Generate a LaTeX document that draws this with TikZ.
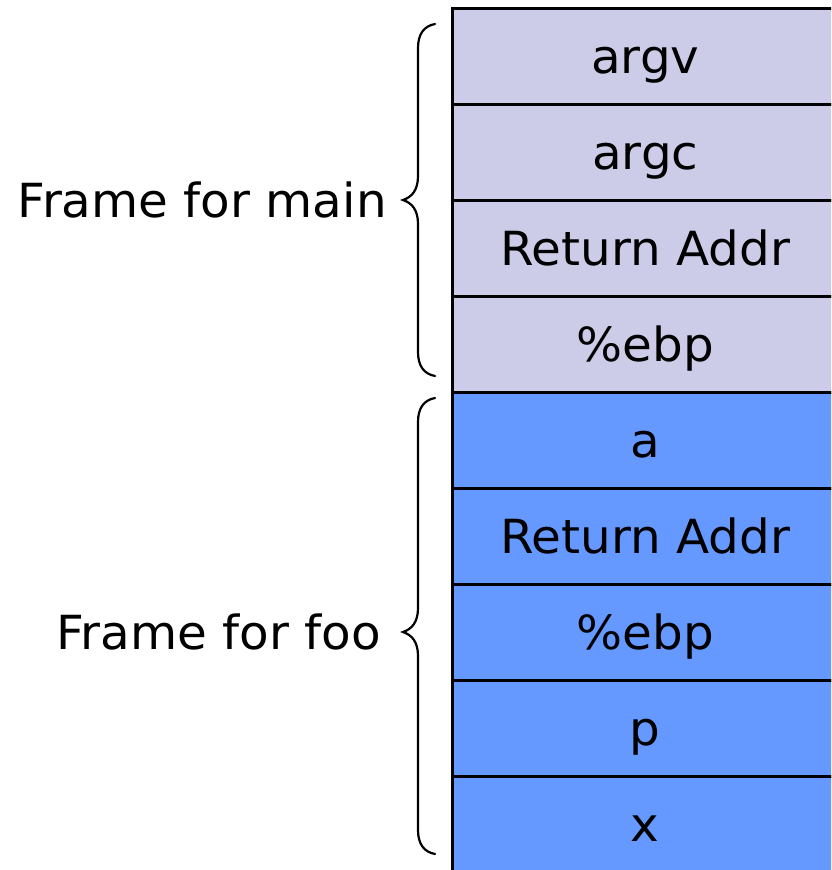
\documentclass[tikz,border=0pt]{standalone}
\usepackage{fontspec}
\setmainfont{DejaVu Sans}[FakeStretch=1.03]
\definecolor{mainc}{RGB}{204,204,232}
\definecolor{fooc}{RGB}{102,153,255}
\tikzset{
  cell/.style={draw=black, line width=2.6pt, minimum width=386pt, minimum height=96pt, anchor=north west, inner sep=0pt, text height=34pt, text depth=0pt, font=\fontsize{47}{56}\selectfont},
  maincell/.style={cell, fill=mainc},
  foocell/.style={cell, fill=fooc},
  brace/.style={draw=black, line width=2.2pt, line cap=round},
  lbl/.style={anchor=east, inner sep=0pt, text height=34pt, text depth=0pt, font=\fontsize{47}{56}\selectfont}
}
\begin{document}
\begin{tikzpicture}[x=1pt,y=-1pt]
\useasboundingbox (0,0) rectangle (831,870);
\clip (0,0) rectangle (831,870);
\node[maincell] (c1) at (451,7) {argv};
\node[maincell] (c2) at (451,103) {argc};
\node[maincell] (c3) at (451,199) {Return Addr};
\node[maincell] (c4) at (451,295) {\%ebp};
\node[foocell] (c5) at (451,391) {a};
\node[foocell] (c6) at (451,487) {Return Addr};
\node[foocell] (c7) at (451,583) {\%ebp};
\node[foocell] (c8) at (451,679) {p};
\node[foocell] (c9) at (451,775) {x};
% braces
\draw[brace] (435,24) .. controls (424,26) and (418,34) .. (418,48)
  -- (418,176) .. controls (418,190) and (412,197) .. (403,200)
  .. controls (412,203) and (418,210) .. (418,224)
  -- (418,352) .. controls (418,366) and (424,374) .. (435,376);
\draw[brace] (435,398) .. controls (424,400) and (418,408) .. (418,422)
  -- (418,608) .. controls (418,622) and (412,629) .. (403,632)
  .. controls (412,635) and (418,642) .. (418,656)
  -- (418,830) .. controls (418,844) and (424,852) .. (435,854);
\node[lbl] (m) at (387,200.5) {Frame for main};
\node[lbl] (f) at (381,632.5) {Frame for foo};
\end{tikzpicture}
\end{document}
